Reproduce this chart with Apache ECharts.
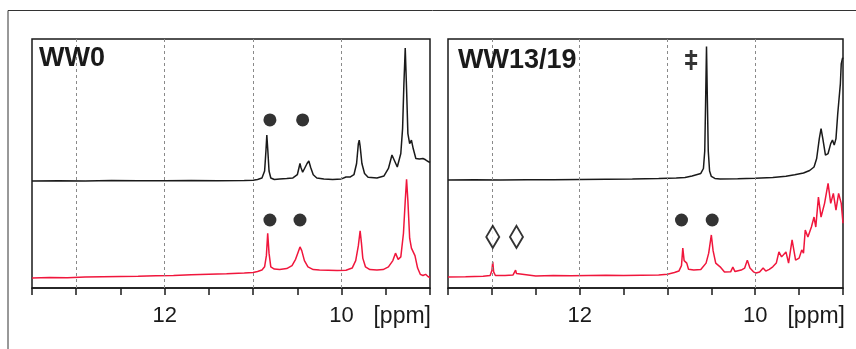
<!DOCTYPE html>
<html>
<head>
<meta charset="utf-8">
<script src="https://cdn.jsdelivr.net/npm/echarts@6/dist/echarts.min.js"></script>
<style>
  html, body { margin: 0; padding: 0; background: #fff; }
  #chart { width: 856px; height: 349px; }
</style>
</head>
<body>
<div id="chart"></div>
<script>
// spectra as [ppm, intensity] pairs, intensity 0..100 over the panel height
const ww0Black = [
  [13.5, 43.0], [13.2, 43.1], [12.9, 43.0], [12.6, 43.2], [12.3, 43.1], [12.0, 43.1],
  [11.7, 43.2], [11.4, 43.1], [11.1, 43.2], [11.0, 43.3], [10.95, 43.6], [10.9, 44.2],
  [10.87, 47], [10.855, 55], [10.845, 61.4], [10.835, 56], [10.82, 47], [10.8, 44.2],
  [10.76, 43.6], [10.7, 43.8], [10.62, 44.0], [10.55, 44.2], [10.5, 45.5], [10.48, 48.5],
  [10.47, 50], [10.46, 48.5], [10.44, 46.5], [10.42, 47], [10.39, 50], [10.37, 51],
  [10.35, 48.5], [10.32, 45.5], [10.28, 44.2], [10.2, 43.8], [10.1, 43.6], [10.0, 43.8],
  [9.95, 44.6], [9.93, 45], [9.9, 44.6], [9.86, 45.5], [9.83, 50], [9.81, 58],
  [9.8, 59.4], [9.79, 57], [9.77, 50], [9.74, 46], [9.7, 44.5], [9.6, 44.2],
  [9.52, 45], [9.47, 48], [9.43, 53.4], [9.4, 51], [9.37, 48.6], [9.33, 54],
  [9.31, 64], [9.295, 82], [9.28, 96.4], [9.265, 80], [9.25, 62], [9.23, 58],
  [9.21, 59.4], [9.19, 56], [9.16, 52], [9.12, 51.8], [9.08, 52], [9.05, 51.5],
  [9.02, 50.8], [9.0, 50.4]
];
const ww0Red = [
  [13.5, 4.0], [13.3, 4.2], [13.1, 4.1], [12.9, 4.4], [12.7, 4.5], [12.5, 4.6],
  [12.3, 4.7], [12.1, 4.9], [11.9, 5.0], [11.7, 5.3], [11.5, 5.5], [11.3, 5.7],
  [11.1, 6.0], [11.0, 6.2], [10.95, 6.6], [10.9, 7.2], [10.87, 8.5], [10.85, 13],
  [10.835, 22], [10.82, 14], [10.8, 8.5], [10.76, 7.6], [10.7, 7.4], [10.62, 7.8],
  [10.56, 9], [10.52, 11.5], [10.49, 14.5], [10.47, 16.5], [10.45, 15], [10.42, 11],
  [10.38, 8.5], [10.32, 7.4], [10.25, 7.2], [10.15, 7.1], [10.05, 7.0], [9.95, 7.1],
  [9.88, 8], [9.84, 11], [9.81, 17], [9.79, 23], [9.775, 18], [9.76, 12],
  [9.73, 8.5], [9.68, 7.4], [9.6, 7.2], [9.53, 7.4], [9.47, 8.5], [9.42, 11],
  [9.39, 14], [9.36, 11.5], [9.33, 12.5], [9.3, 22], [9.28, 35], [9.265, 43.7],
  [9.25, 35], [9.23, 20], [9.21, 16], [9.19, 16.5], [9.17, 13], [9.14, 8],
  [9.11, 5.5], [9.08, 5], [9.05, 5.5], [9.02, 4.5], [9.0, 4.2]
];
const ww13Black = [
  [13.5, 43.4], [13.2, 43.5], [12.9, 43.4], [12.6, 43.5], [12.3, 43.5], [12.0, 43.6],
  [11.7, 43.7], [11.4, 43.8], [11.1, 44.0], [10.9, 44.2], [10.8, 44.4], [10.72, 45.0],
  [10.66, 45.6], [10.62, 46], [10.59, 48], [10.575, 55], [10.565, 75], [10.555, 97],
  [10.545, 75], [10.535, 55], [10.52, 47], [10.5, 44.8], [10.46, 44.0], [10.4, 43.8],
  [10.2, 43.9], [10.0, 44.1], [9.8, 44.4], [9.65, 44.9], [9.55, 45.5], [9.45, 46.2],
  [9.38, 47.2], [9.33, 48.6], [9.3, 52], [9.27, 60], [9.25, 64], [9.23, 60],
  [9.2, 53.4], [9.17, 54], [9.14, 58], [9.12, 59.4], [9.1, 57.4], [9.08, 60],
  [9.06, 70], [9.05, 74], [9.03, 82], [9.02, 90], [9.005, 92.4], [9.0, 92]
];
const ww13Red = [
  [13.5, 4.4], [13.3, 4.5], [13.1, 4.7], [13.02, 5.0], [13.0, 7], [12.99, 10.5],
  [12.98, 6.5], [12.96, 5.0], [12.85, 5.0], [12.76, 5.2], [12.74, 6], [12.73, 7.2],
  [12.72, 5.8], [12.7, 5.0], [12.5, 4.8], [12.3, 5.0], [12.1, 4.9], [11.9, 5.0],
  [11.7, 5.1], [11.5, 5.0], [11.3, 5.1], [11.1, 5.2], [11.0, 5.5], [10.92, 6.2],
  [10.87, 6.8], [10.84, 9], [10.825, 16], [10.81, 11], [10.78, 10], [10.76, 7.5],
  [10.7, 7.2], [10.62, 7.4], [10.56, 10], [10.53, 14], [10.5, 21.3], [10.48, 15],
  [10.45, 10], [10.4, 8.5], [10.35, 6.4], [10.28, 6.5], [10.255, 8.4], [10.23, 6.6],
  [10.16, 7.2], [10.12, 8], [10.09, 11.2], [10.06, 8], [10.02, 6.5], [9.99, 6],
  [9.95, 6.4], [9.91, 8], [9.88, 6.8], [9.84, 7.5], [9.8, 8.5], [9.76, 10],
  [9.73, 14.5], [9.7, 12.5], [9.68, 13.3], [9.65, 14.5], [9.62, 10], [9.58, 19.3],
  [9.54, 11.2], [9.5, 12], [9.47, 15.3], [9.45, 14], [9.43, 23.3], [9.4, 20.5],
  [9.36, 24.5], [9.33, 28.5], [9.31, 24.5], [9.28, 36.5], [9.25, 28.5], [9.21, 34],
  [9.17, 42], [9.14, 34], [9.11, 38], [9.08, 31.3], [9.05, 38], [9.02, 34], [9.0, 26]
];

// annotation markers
const ww0Dots = [[10.81, 67.5], [10.44, 67.5], [10.81, 27.3], [10.47, 27.3]];
const ww13Dots = [[10.84, 27.3], [10.49, 27.3]];
const ww13Diamonds = [[12.99, 20.5], [12.72, 20.5]];
const ww13Dagger = [[10.73, 91.6]];

const panelTitles = ['WW0', 'WW13/19'];
const tickLabels = [12, 10];
const gridPpm = [13, 12, 11, 10];

const chart = echarts.init(document.getElementById('chart'));

const font = 'Liberation Sans, Arial, sans-serif';
const black = '#1a1a1a';
const red = '#f0163c';

const xAxisItem = {
  type: 'value',
  min: 9,
  max: 13.5,
  interval: 0.5,
  inverse: true,
  axisLine: { show: true, lineStyle: { color: black, width: 1.5 } },
  axisTick: { show: true, length: 7, lineStyle: { color: black, width: 1.5 } },
  axisLabel: {
    show: true,
    margin: 17,
    color: black,
    fontSize: 22,
    fontFamily: font,
    formatter: function (v) {
      return tickLabels.indexOf(v) >= 0 ? String(v) : '';
    }
  },
  splitLine: { show: false }
};

const yAxisItem = { type: 'value', min: 0, max: 100, show: false };

const gridMarks = {
  silent: true,
  symbol: ['none', 'none'],
  label: { show: false },
  lineStyle: { color: '#8a8a8a', type: [3, 3], width: 1 },
  data: gridPpm.map(function (p) { return { xAxis: p }; })
};

const lineItem = {
  type: 'line',
  showSymbol: false,
  symbol: 'none',
  smooth: false,
  lineStyle: { width: 1.5 }
};

const markerItem = function (idx, data, opts) {
  return Object.assign({
    type: 'scatter',
    xAxisIndex: idx,
    yAxisIndex: idx,
    data: data,
    silent: true,
    z: 5
  }, opts);
};

const titleStyle = { fontSize: 27, fontWeight: 'bold', fontFamily: font, color: black };

chart.setOption({
  animation: false,
  backgroundColor: '#fff',
  title: [
    { text: panelTitles[0], left: 39, top: 45, padding: 0, textStyle: titleStyle },
    { text: panelTitles[1], left: 458, top: 47, padding: 0, textStyle: titleStyle }
  ],
  grid: [
    { left: 32, right: 426, top: 39, height: 249, show: true, borderColor: black, borderWidth: 1.5, backgroundColor: 'transparent' },
    { left: 448, right: 13, top: 39, height: 249, show: true, borderColor: black, borderWidth: 1.5, backgroundColor: 'transparent' }
  ],
  xAxis: [
    Object.assign({ gridIndex: 0 }, xAxisItem),
    Object.assign({ gridIndex: 1 }, xAxisItem)
  ],
  yAxis: [
    Object.assign({ gridIndex: 0 }, yAxisItem),
    Object.assign({ gridIndex: 1 }, yAxisItem)
  ],
  graphic: [
    {
      type: 'polyline',
      shape: { points: [[8, 360], [8, 10.5], [870, 10.5]] },
      style: { stroke: '#333', lineWidth: 1, fill: null },
      silent: true
    },
    {
      type: 'text', right: 856 - 431, top: 305,
      style: { text: '[ppm]', font: '23px ' + font, fill: black }
    },
    {
      type: 'text', right: 856 - 845, top: 305,
      style: { text: '[ppm]', font: '23px ' + font, fill: black }
    }
  ],
  series: [
    Object.assign({}, lineItem, {
      xAxisIndex: 0, yAxisIndex: 0, data: ww0Black,
      lineStyle: { width: 1.5, color: black }, markLine: gridMarks
    }),
    Object.assign({}, lineItem, {
      xAxisIndex: 0, yAxisIndex: 0, data: ww0Red,
      lineStyle: { width: 1.5, color: red }
    }),
    Object.assign({}, lineItem, {
      xAxisIndex: 1, yAxisIndex: 1, data: ww13Black,
      lineStyle: { width: 1.5, color: black }, markLine: gridMarks
    }),
    Object.assign({}, lineItem, {
      xAxisIndex: 1, yAxisIndex: 1, data: ww13Red,
      lineStyle: { width: 1.5, color: red }
    }),
    markerItem(0, ww0Dots, { symbol: 'circle', symbolSize: 13, itemStyle: { color: '#000' } }),
    markerItem(1, ww13Dots, { symbol: 'circle', symbolSize: 13, itemStyle: { color: '#000' } }),
    markerItem(1, ww13Diamonds, {
      symbol: 'diamond', symbolSize: [13, 22],
      itemStyle: { color: '#fff', borderColor: '#000', borderWidth: 2 }
    }),
    // double dagger drawn as a path symbol
    markerItem(1, ww13Dagger, {
      symbol: 'path://M5,0h3v20h-3z M0,4h13v3h-13z M0,12h13v3h-13z',
      symbolSize: [12, 20],
      itemStyle: { color: '#000' }
    })
  ]
});
</script>
</body>
</html>
